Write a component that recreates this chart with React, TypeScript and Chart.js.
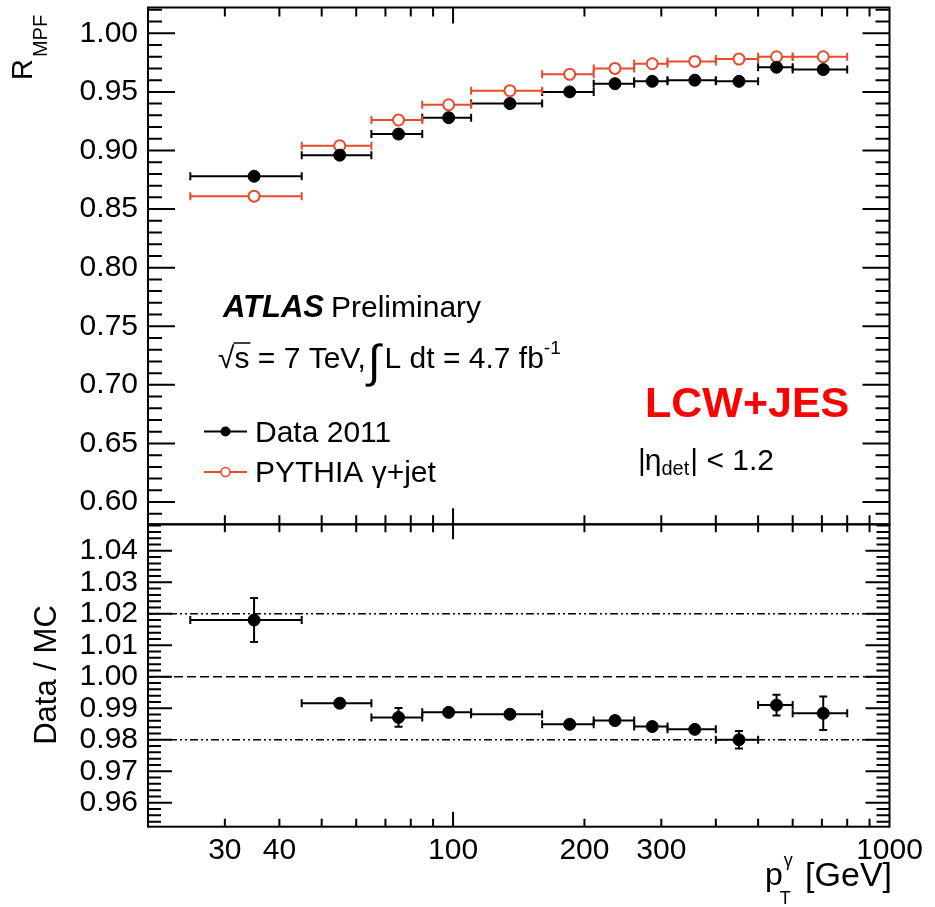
import React, { useEffect, useRef } from 'react';
import { Chart, registerables } from 'chart.js';

Chart.register(...registerables);

// ---------------- data ----------------
const binLow = [25, 45, 65, 85, 110, 160, 210, 260, 310, 400, 500, 600];
const binHigh = [45, 65, 85, 110, 160, 210, 260, 310, 400, 500, 600, 800];
const ptCenter = [35, 55, 75, 97.7, 135, 185, 235, 286, 358, 452, 551, 705];
const dataR = [0.878, 0.896, 0.914, 0.928, 0.940, 0.950, 0.957, 0.959, 0.960, 0.959, 0.971, 0.969];
const mcR = [0.861, 0.904, 0.926, 0.939, 0.951, 0.965, 0.970, 0.974, 0.976, 0.978, 0.980, 0.980];
const ratio = [1.018, 0.9916, 0.9871, 0.9887, 0.9881, 0.9849, 0.9861, 0.9842, 0.9833, 0.980, 0.991, 0.9884];
const ratioErr = [0.007, 0.001, 0.003, 0.001, 0.001, 0.001, 0.001, 0.001, 0.001, 0.0028, 0.0033, 0.0053];
const refLines = [1.02, 1.0, 0.98];
const topTicks = [0.6, 0.65, 0.7, 0.75, 0.8, 0.85, 0.9, 0.95, 1.0];
const ratioTicks = [0.96, 0.97, 0.98, 0.99, 1.0, 1.01, 1.02, 1.03, 1.04];
const xLabelTicks = [30, 40, 100, 200, 300, 1000];

const X_MIN = 20;
const X_MAX = 1000;
const TOP_MIN = 0.581;
const TOP_MAX = 1.022;
const RAT_MIN = 0.9524;
const RAT_MAX = 1.0484;

const FONT = '"Liberation Sans", Arial, Helvetica, sans-serif';
const BLACK = '#000000';
const RED = '#ea4a2c';

const W = 935;
const H = 907;

// ---------------- plugins ----------------
const errorBarPlugin = {
  id: 'errorBars',
  beforeDatasetsDraw(chart: any) {
    const { ctx } = chart;
    const xs = chart.scales.x;
    const yt = chart.scales.y;
    const yb = chart.scales.y2;
    const cap = 4;
    ctx.save();
    ctx.lineWidth = 2;
    const hbar = (color: string, y: number, i: number) => {
      const x0 = xs.getPixelForValue(binLow[i]);
      const x1 = xs.getPixelForValue(binHigh[i]);
      ctx.strokeStyle = color;
      ctx.beginPath();
      ctx.moveTo(x0, y);
      ctx.lineTo(x1, y);
      ctx.moveTo(x0, y - cap);
      ctx.lineTo(x0, y + cap);
      ctx.moveTo(x1, y - cap);
      ctx.lineTo(x1, y + cap);
      ctx.stroke();
    };
    ptCenter.forEach((_, i) => hbar(BLACK, yt.getPixelForValue(dataR[i]), i));
    ptCenter.forEach((_, i) => hbar(RED, yt.getPixelForValue(mcR[i]), i));
    ptCenter.forEach((xc, i) => {
      const y = yb.getPixelForValue(ratio[i]);
      hbar(BLACK, y, i);
      const xp = xs.getPixelForValue(xc);
      const yHi = yb.getPixelForValue(ratio[i] + ratioErr[i]);
      const yLo = yb.getPixelForValue(ratio[i] - ratioErr[i]);
      ctx.beginPath();
      ctx.moveTo(xp, yHi);
      ctx.lineTo(xp, yLo);
      ctx.moveTo(xp - cap, yHi);
      ctx.lineTo(xp + cap, yHi);
      ctx.moveTo(xp - cap, yLo);
      ctx.lineTo(xp + cap, yLo);
      ctx.stroke();
    });
    ctx.restore();
  },
};

function font(size: number, weight = 'normal', style = 'normal') {
  return `${style} ${weight} ${size}px ${FONT}`;
}

const framePlugin = {
  id: 'frameTicksText',
  afterDraw(chart: any) {
    const { ctx } = chart;
    const xs = chart.scales.x;
    const yt = chart.scales.y;
    const yb = chart.scales.y2;
    const L = xs.left;
    const R = xs.right;
    const T = yt.top;
    const D = yt.bottom;
    const B = yb.bottom;

    ctx.save();
    ctx.strokeStyle = BLACK;
    ctx.lineWidth = 2;
    ctx.strokeRect(L, T, R - L, D - T);
    ctx.strokeRect(L, D, R - L, B - D);

    // x ticks
    const xv: number[] = [];
    for (const dec of [10, 100]) {
      for (let m = 1; m <= 9; m++) {
        const v = m * dec;
        if (v > X_MIN && v < X_MAX) xv.push(v);
      }
    }
    ctx.lineWidth = 2;
    ctx.beginPath();
    for (const v of xv) {
      const px = xs.getPixelForValue(v);
      const major = v === 100;
      const lt = major ? 16 : 9;
      const lb = major ? 15 : 8;
      ctx.moveTo(px, T);
      ctx.lineTo(px, T + lt);
      ctx.moveTo(px, D);
      ctx.lineTo(px, D - lt);
      ctx.moveTo(px, D);
      ctx.lineTo(px, D + lb);
      ctx.moveTo(px, B);
      ctx.lineTo(px, B - lb);
    }
    // y ticks top panel
    for (let k = Math.ceil(TOP_MIN * 100); k <= Math.floor(TOP_MAX * 100); k++) {
      const py = yt.getPixelForValue(k / 100);
      const len = k % 5 === 0 ? 27 : 14;
      ctx.moveTo(L, py);
      ctx.lineTo(L + len, py);
      ctx.moveTo(R, py);
      ctx.lineTo(R - len, py);
    }
    // y ticks ratio panel
    for (let k = Math.ceil(RAT_MIN * 500); k <= Math.floor(RAT_MAX * 500); k++) {
      const py = yb.getPixelForValue(k / 500);
      const len = k % 5 === 0 ? 24 : 13;
      ctx.moveTo(L, py);
      ctx.lineTo(L + len, py);
      ctx.moveTo(R, py);
      ctx.lineTo(R - len, py);
    }
    ctx.stroke();

    ctx.fillStyle = BLACK;
    ctx.textBaseline = 'alphabetic';
    ctx.textAlign = 'left';

    // y title top: R_MPF
    ctx.save();
    ctx.translate(32, 80);
    ctx.rotate(-Math.PI / 2);
    ctx.font = font(29);
    ctx.fillText('R', 0, 0);
    const rw = ctx.measureText('R').width;
    ctx.font = font(20);
    ctx.fillText('MPF', rw + 2, 15);
    ctx.restore();

    // y title bottom
    ctx.save();
    ctx.translate(47, 675);
    ctx.rotate(-Math.PI / 2);
    ctx.font = font(31);
    ctx.textAlign = 'center';
    ctx.textBaseline = 'middle';
    ctx.fillText('Data / MC', 0, 0);
    ctx.restore();

    // x title: p_T^gamma [GeV]
    ctx.font = font(34);
    ctx.textAlign = 'right';
    ctx.fillText('[GeV]', 892, 886);
    const gw = ctx.measureText('[GeV]').width;
    ctx.textAlign = 'left';
    const sx = 892 - gw - 40;
    ctx.font = font(32);
    ctx.fillText('p', sx, 885);
    const pw = ctx.measureText('p').width;
    ctx.font = font(18);
    ctx.fillText('γ', sx + pw + 1, 866);
    ctx.fillText('T', sx + pw - 3, 904);

    // ATLAS Preliminary
    ctx.font = font(31, 'bold', 'italic');
    ctx.fillText('ATLAS', 223, 317);
    const aw = ctx.measureText('ATLAS').width;
    ctx.font = font(30);
    ctx.fillText('Preliminary', 223 + aw + 7, 317);

    // sqrt(s) = 7 TeV, int L dt = 4.7 fb^-1
    let cx = 218;
    const by = 368;
    ctx.font = font(30);
    ctx.fillText('√', cx, by);
    cx += ctx.measureText('√').width;
    ctx.fillText('s', cx, by);
    const swid = ctx.measureText('s').width;
    ctx.lineWidth = 1.5;
    ctx.beginPath();
    ctx.moveTo(cx - 1, by - 25);
    ctx.lineTo(cx + swid + 1, by - 25);
    ctx.stroke();
    cx += swid;
    ctx.fillText(' = 7 TeV,', cx, by);
    cx += ctx.measureText(' = 7 TeV,').width + 2;
    ctx.font = font(46);
    ctx.fillText('∫', cx, by + 9);
    cx += ctx.measureText('∫').width + 4;
    ctx.font = font(30);
    ctx.fillText('L dt = 4.7 fb', cx, by);
    cx += ctx.measureText('L dt = 4.7 fb').width;
    ctx.font = font(19);
    ctx.fillText('-1', cx, by - 14);

    // legend
    ctx.lineWidth = 2;
    ctx.strokeStyle = BLACK;
    ctx.beginPath();
    ctx.moveTo(204, 431.5);
    ctx.lineTo(247, 431.5);
    ctx.stroke();
    ctx.beginPath();
    ctx.arc(225.5, 431.5, 5, 0, Math.PI * 2);
    ctx.fill();
    ctx.font = font(30);
    ctx.fillText('Data 2011', 255, 442);

    ctx.strokeStyle = RED;
    ctx.beginPath();
    ctx.moveTo(204, 472);
    ctx.lineTo(247, 472);
    ctx.stroke();
    ctx.fillStyle = '#ffffff';
    ctx.beginPath();
    ctx.arc(225.5, 472, 4.5, 0, Math.PI * 2);
    ctx.fill();
    ctx.lineWidth = 1.6;
    ctx.stroke();
    ctx.fillStyle = BLACK;
    ctx.fillText('PYTHIA γ+jet', 255, 482);

    // LCW+JES
    ctx.fillStyle = '#ff0000';
    ctx.font = font(43, 'bold');
    ctx.fillText('LCW+JES', 645, 417);

    // |eta_det| < 1.2
    ctx.fillStyle = BLACK;
    cx = 638;
    const ey = 470;
    ctx.font = font(30);
    ctx.fillText('|', cx, ey);
    cx += ctx.measureText('|').width - 1;
    ctx.fillText('η', cx, ey);
    cx += ctx.measureText('η').width;
    ctx.font = font(20);
    ctx.fillText('det', cx, ey + 5);
    cx += ctx.measureText('det').width + 1;
    ctx.font = font(30);
    ctx.fillText('| < 1.2', cx, ey);

    ctx.restore();
  },
};

export default function App() {
  const ref = useRef<HTMLCanvasElement | null>(null);

  useEffect(() => {
    document.body.style.margin = '0';
    document.body.style.overflow = 'hidden';
    const canvas = ref.current;
    if (!canvas) return;

    const pointsOf = (ys: number[]) => ptCenter.map((x, i) => ({ x, y: ys[i] }));

    const yTickOpts = {
      autoSkip: false,
      padding: 10,
      color: BLACK,
      font: { family: FONT, size: 30 },
      callback: (v: any) => Number(v).toFixed(2),
    };

    const chart = new Chart(canvas, {
      type: 'scatter',
      data: {
        datasets: [
          {
            label: 'Data 2011',
            data: pointsOf(dataR),
            xAxisID: 'x',
            yAxisID: 'y',
            showLine: false,
            pointRadius: 6,
            pointBackgroundColor: BLACK,
            pointBorderColor: BLACK,
            pointBorderWidth: 1,
            order: 1,
          },
          {
            label: 'PYTHIA γ+jet',
            data: pointsOf(mcR),
            xAxisID: 'x',
            yAxisID: 'y',
            showLine: false,
            pointRadius: 5.5,
            pointBackgroundColor: '#ffffff',
            pointBorderColor: RED,
            pointBorderWidth: 2,
            order: 2,
          },
          {
            label: 'Data / MC',
            data: pointsOf(ratio),
            xAxisID: 'x',
            yAxisID: 'y2',
            showLine: false,
            pointRadius: 6,
            pointBackgroundColor: BLACK,
            pointBorderColor: BLACK,
            pointBorderWidth: 1,
            order: 0,
          },
          ...refLines.map((v, j) => ({
            label: 'ref' + j,
            data: [
              { x: X_MIN, y: v },
              { x: X_MAX, y: v },
            ],
            xAxisID: 'x',
            yAxisID: 'y2',
            showLine: true,
            pointRadius: 0,
            borderColor: BLACK,
            borderWidth: 1.5,
            borderDash: j === 1 ? [9, 4] : [8, 3, 2, 3, 2, 3],
            order: 5,
          })),
        ],
      },
      options: {
        responsive: false,
        animation: false,
        events: [],
        layout: { padding: { top: 5, right: 45.5, bottom: 0, left: 0 } },
        plugins: {
          legend: { display: false },
          tooltip: { enabled: false },
          title: { display: false },
        },
        scales: {
          x: {
            type: 'logarithmic',
            position: 'bottom',
            min: X_MIN,
            max: X_MAX,
            grid: { display: false, drawTicks: false },
            border: { display: false },
            afterBuildTicks: (s: any) => {
              s.ticks = xLabelTicks.map((v) => ({ value: v }));
            },
            afterFit: (s: any) => {
              s.height = H - 826.7;
              s.paddingLeft = 0;
              s.paddingRight = 0;
            },
            ticks: {
              autoSkip: false,
              maxRotation: 0,
              padding: 6,
              color: BLACK,
              font: { family: FONT, size: 30 },
              callback: (v: any) => String(v),
            },
          },
          y: {
            type: 'linear',
            position: 'left',
            stack: 'panels',
            stackWeight: 518.4,
            weight: 2,
            min: TOP_MIN,
            max: TOP_MAX,
            grid: { display: false, drawTicks: false },
            border: { display: false },
            afterBuildTicks: (s: any) => {
              s.ticks = topTicks.map((v) => ({ value: v }));
            },
            afterFit: (s: any) => {
              s.width = 148;
              s.paddingTop = 0;
              s.paddingBottom = 0;
            },
            ticks: yTickOpts,
          },
          y2: {
            type: 'linear',
            position: 'left',
            stack: 'panels',
            stackWeight: 303.3,
            weight: 1,
            min: RAT_MIN,
            max: RAT_MAX,
            grid: { display: false, drawTicks: false },
            border: { display: false },
            afterBuildTicks: (s: any) => {
              s.ticks = ratioTicks.map((v) => ({ value: v }));
            },
            afterFit: (s: any) => {
              s.width = 148;
              s.paddingTop = 0;
              s.paddingBottom = 0;
            },
            ticks: yTickOpts,
          },
        },
      } as any,
      plugins: [errorBarPlugin, framePlugin],
    });

    return () => chart.destroy();
  }, []);

  return (
    <div style={{ width: W, height: H }}>
      <canvas ref={ref} width={W} height={H} style={{ display: 'block' }} />
    </div>
  );
}
